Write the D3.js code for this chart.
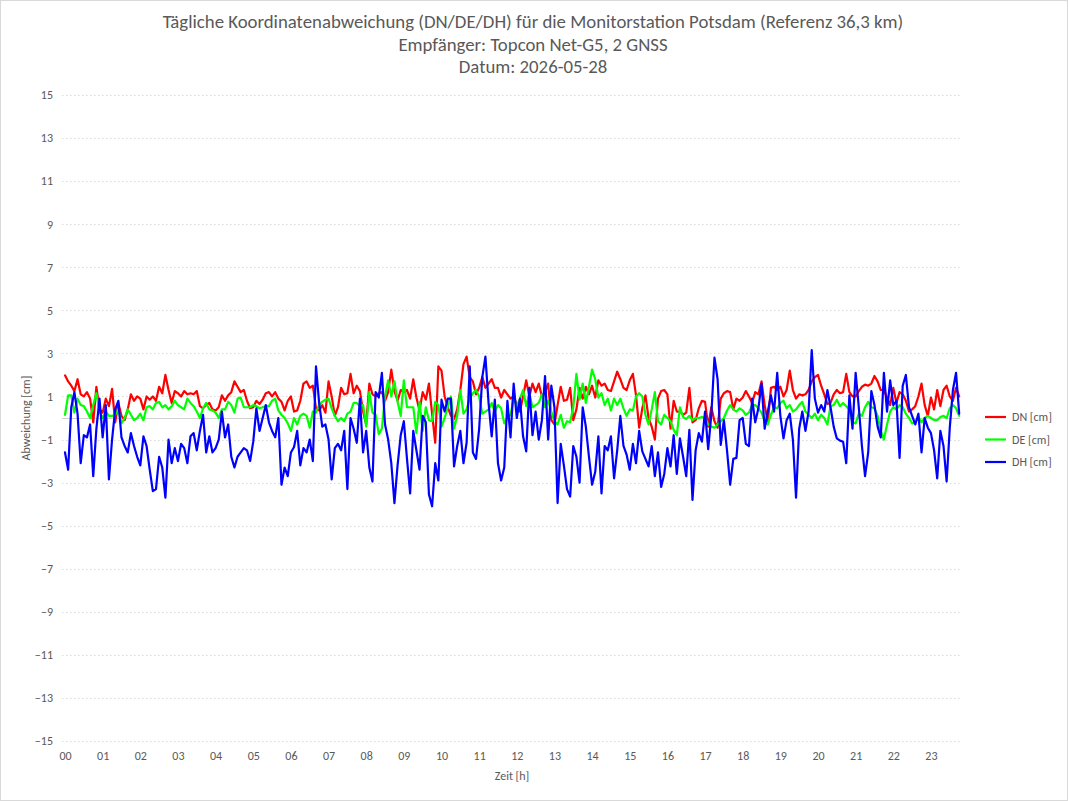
<!DOCTYPE html>
<html>
<head>
<meta charset="utf-8">
<script src="https://cdn.jsdelivr.net/npm/d3@7"></script>
<style>
  html, body { margin: 0; padding: 0; background: #fff; }
  svg { display: block; }
  text { font-family: "Carlito", "Liberation Sans Narrow", "Open Sans", sans-serif; fill: #595959; }
</style>
</head>
<body>
<svg id="chart" width="1068" height="801"></svg>
<script>
// ---------- DATA ----------
const titleLines = [
  "Tägliche Koordinatenabweichung (DN/DE/DH) für die Monitorstation Potsdam (Referenz 36,3 km)",
  "Empfänger: Topcon Net-G5, 2 GNSS",
  "Datum: 2026-05-28"
];
const yTicks = [-15, -13, -11, -9, -7, -5, -3, -1, 1, 3, 5, 7, 9, 11, 13, 15];
const xTickLabels = ["00","01","02","03","04","05","06","07","08","09","10","11",
                     "12","13","14","15","16","17","18","19","20","21","22","23"];
const seriesNames = ["DN [cm]", "DE [cm]", "DH [cm]"];
const seriesColors = ["#ff0000", "#00ff00", "#0000ff"];
const stepMinutes = 5;

// DN [cm], one value every 5 minutes from 00:00
const dn = [
  1.98,1.7,1.5,1.25,1.8,1.1,1.0,1.2,0.9,-0.2, 1.45,0.4,0.25,0.9,0.55,1.35,-0.2,0.7,0.1,-0.1,
  0.4,1.1,0.8,1.0,0.9,0.4,1.0,0.85,1.0,0.8, 1.45,1.15,2.0,1.3,0.7,1.25,1.15,1.0,1.25,1.1,
  1.15,1.1,1.25,0.55,0.45,0.6,0.7,
  0.4,0.35,0.5,1.05,0.8,1.05,1.2,1.7,1.45,1.2, 1.3,0.8,0.45,0.5,0.8,0.65,0.85,1.15,1.2,1.0,
  1.2,0.9,0.75,0.35,0.8,1.0,0.3,0.35,0.8,1.6, 1.7,1.4,1.5,0.45,0.35,0.6,0.25,1.7,1.0,0.1,
  0.5,1.4,1.1,1.15,2.05,1.15,1.5,1.25,
  0.3,-0.3,1.6,1.1,1.0,1.15,1.2,0.8,1.2,2.25, 1.25,0.8,1.3,1.2,1.3,0.9,1.8,0.95,0.35,1.2,
  0.85,1.6,0.2,-1.15,2.4,2.2,1.0,0.5,0.1,-0.05, 0.4,1.3,2.5,2.85,1.9,1.7,1.1,1.4,1.9,1.4,
  1.6,1.8,1.4,1.4,0.95,1.3,1.1,0.9,
  1.0,0.6,0.3,1.0,1.75,1.0,1.6,1.2,1.6,1.0, 1.2,1.6,-0.1,-0.3,0.6,1.45,0.8,0.85,1.4,-0.1,
  0.4,1.4,0.9,1.45,1.1,1.5,0.95,1.75,1.5,1.6, 1.3,1.25,1.7,2.15,1.8,1.4,1.3,1.75,2.05,1.05,
  -0.45,0.45,1.05,0.0,-0.4,-1.0,0.9,1.25,1.3,1.1, -0.5,0.8,0.3,0.3,0.15,0.25,1.4,-0.2,-0.1,0.45,
  0.8,0.75,-0.4,0.5,-0.15,-0.45,0.9,1.15,1.25,1.2, 0.4,0.9,0.8,0.95,1.25,1.0,0.7,1.2,1.1,1.7,
  0.6,-0.2,1.4,1.45,1.3,1.45,1.0,1.3,2.2,1.3, 0.9,1.1,1.05,1.1,1.3,
  1.7,1.9,2.0,1.5,1.1,0.65,0.7,1.1,1.3,1.15, 1.2,2.05,1.2,1.0,1.0,1.25,1.45,1.55,1.5,1.6,
  1.95,1.7,1.3,1.3,0.95,0.6,1.4,0.7,1.2,1.1, 0.8,0.3,0.4,0.55,1.0,1.6,0.6,0.1,0.95,0.4,
  1.3,0.55,1.3,1.5,1.0,0.8,1.4,1.0
];

// DE [cm]
const de = [
  0.15,1.05,1.05,0.25,0.9,0.6,0.55,0.3,0.0,0.6, 1.15,0.3,0.0,0.3,0.1,0.1,0.15,0.4,-0.25,0.0,
  0.4,0.15,-0.1,0.0,0.2,-0.1,0.5,0.55,0.4,0.7, 0.75,0.5,0.6,0.4,0.55,0.8,0.6,0.5,0.4,0.9,
  0.7,0.55,0.3,0.0,0.45,0.7,0.4,
  0.35,0.25,0.0,0.4,0.4,0.75,0.6,0.25,0.9,0.95, 0.5,0.5,0.5,0.6,0.55,0.45,0.5,0.55,0.55,0.8,
  0.9,0.35,0.15,0.0,-0.25,-0.6,0.0,-0.3,0.1,0.2, 0.1,-0.45,0.3,0.25,0.6,0.75,0.85,0.9,0.45,0.1,
  -0.15,0.0,-0.15,0.2,0.3,0.7,0.7,0.55,
  0.6,-0.4,1.2,0.25,0.15,-0.75,-0.5,1.0,1.75,1.0, 1.7,0.75,0.1,1.75,0.5,0.5,0.5,-0.7,0.75,-0.6,
  0.5,-0.1,-0.15,0.75,0.6,-0.4,0.0,0.5,1.0,-0.5, 0.1,1.3,0.2,0.4,0.9,1.15,1.3,1.0,0.2,0.3,
  0.4,0.7,0.3,0.6,0.45,-0.25,0.0,0.15,
  0.9,0.55,0.9,1.3,0.55,1.15,0.5,0.6,0.7,1.1, 0.5,0.8,0.3,-0.15,-0.3,0.15,-0.45,-0.15,-0.2,0.5,
  2.05,0.85,1.6,0.7,1.45,2.25,1.8,0.95,1.15,0.6, 0.9,0.35,0.9,0.6,0.9,0.45,0.1,0.4,0.35,1.0,
  1.15,1.0,0.15,-0.3,0.4,1.2,-0.15,-0.3,
  0.15,0.0,-0.15,-0.55,-0.8,0.5,0.05,-0.05,0.1,-0.1, 0.0,0.0,0.05,0.0,-0.3,-0.4,-0.45,-0.3,-0.15,0.0,
  0.35,0.6,0.4,0.3,0.45,0.35,0.15,0.25,0.6,0.6, 0.45,0.25,-0.15,-0.3,0.15,0.5,0.45,0.7,0.8,0.45,
  0.6,0.3,0.4,0.6,0.75,0.3,0.15,
  0.0,0.2,-0.1,0.15,0.0,-0.3,0.55,0.6,0.85,0.55, 0.7,0.55,0.4,-0.2,-0.25,0.2,0.1,0.5,0.75,0.5,
  0.45,0.1,-0.6,-1.0,-0.3,0.3,0.5,0.4,0.6,0.5, 0.2,0.0,-0.25,-0.2,0.05,-0.2,0.0,0.1,0.0,-0.1,
  -0.1,0.05,0.1,0.0,0.45,0.6,0.45,0.1
];

// DH [cm]
const dh = [
  -1.6,-2.4,0.5,1.2,0.2,-2.1,-0.8,-0.9,-0.3,-2.7, -0.5,0.9,-0.9,0.6,-2.85,-1.0,0.4,0.8,-0.9,-1.3,
  -1.6,-0.7,-1.3,-1.8,-2.2,-0.85,-1.3,-2.4,-3.4,-3.3, -1.8,-2.3,-3.7,-1.0,-2.1,-1.4,-2.0,-1.2,-1.4,-2.1,
  -0.85,-0.7,-1.5,-0.6,0.15,-1.6,-0.85,
  -1.6,-1.4,-1.0,0.3,-0.9,-0.3,-1.8,-2.3,-1.8,-1.6, -1.4,-1.5,-2.0,-1.1,0.45,-0.6,0.0,0.6,-0.2,-0.6,
  -0.9,0.0,-3.1,-2.3,-2.7,-1.6,-1.35,-0.6,-2.2,-1.4, -1.6,-1.0,-2.0,2.4,0.7,-0.4,-0.3,-1.0,-2.85,-1.4,
  -1.2,-1.5,-0.6,-3.3,0.0,-0.5,-1.15,0.9,
  -1.6,-0.6,-2.3,-2.95,1.2,0.95,2.1,-0.3,-1.0,-2.1, -3.95,-2.2,-0.8,-0.15,-1.9,-3.5,-0.6,-1.5,-2.4,0.1,
  -0.2,-3.55,-4.1,-2.1,-2.9,0.85,0.3,0.9,0.9,-2.25, -1.3,-0.6,-2.1,-1.15,2.4,-1.6,-1.9,-0.5,1.9,2.85,
  0.7,-0.85,0.85,-2.1,-2.9,-2.3,0.8,-0.9,
  1.6,0.0,0.9,-0.85,-1.55,1.4,-0.8,0.3,-1.0,-0.1, 1.95,-1.0,1.5,0.5,-3.95,-1.2,-2.2,-3.3,-3.65,-1.3,
  -1.8,-3.0,0.5,-0.4,-1.8,-3.1,-2.5,-0.85,-3.5,-1.3, -1.5,-0.85,-2.8,-1.5,0.1,-1.3,-1.7,-2.4,-1.2,-2.1,
  -0.6,-1.55,-1.9,-2.25,-1.3,-2.7,-1.6,-3.2,
  -2.6,-1.4,-2.25,-0.8,-2.6,-0.95,-1.8,-2.7,-0.55,-3.8, -1.5,-0.7,-1.1,0.3,-1.45,0.15,2.8,1.8,-1.25,-0.1,
  -1.5,-3.1,-1.9,-1.85,-0.1,0.0,-1.2,-1.3,0.9,-0.2, 0.45,1.6,-0.5,0.3,1.05,0.3,2.1,0.1,-0.95,-0.1,
  0.2,-1.0,-3.7,-0.5,0.3,-0.6,0.3,
  3.15,0.9,0.25,0.6,0.3,1.3,0.5,-0.4,-0.95,-1.05, -1.1,-2.1,1.05,-0.5,2.1,0.5,-1.3,-2.7,-1.6,1.25,
  0.6,-0.4,-0.9,2.1,0.3,1.75,0.6,0.8,-1.85,1.5, 2.0,0.5,0.1,-0.3,0.2,-1.6,0.0,-0.45,-0.7,-1.5,
  -2.8,-0.6,-1.3,-2.95,-0.45,1.3,2.1,0.2
];

// ---------- CHART ----------
const svg = d3.select("#chart");
const W = 1068, H = 801;

svg.append("rect").attr("x", 0.5).attr("y", 0.5).attr("width", W - 1).attr("height", H - 1)
  .attr("fill", "#fff").attr("stroke", "#d9d9d9");

const x = d3.scaleLinear().domain([0, 24]).range([65, 968.6]);
const y = d3.scaleLinear().domain([-15, 15]).range([741, 95]);
const plotLeft = 62, plotRight = 960;

// title
const title = svg.append("text").attr("text-anchor", "middle").style("font-size", "18.8px");
titleLines.forEach((t, i) => {
  title.append("tspan").attr("x", 533).attr("y", 28 + i * 22.5).text(t);
});

// gridlines
svg.append("g").selectAll("line").data(yTicks).join("line")
  .attr("x1", plotLeft).attr("x2", plotRight)
  .attr("y1", d => Math.round(y(d)) + 0.5).attr("y2", d => Math.round(y(d)) + 0.5)
  .attr("stroke", "#d9d9d9").attr("stroke-width", 1).attr("stroke-dasharray", "1.5,2.5");

// zero line
svg.append("line").attr("x1", plotLeft).attr("x2", plotRight)
  .attr("y1", Math.round(y(0)) + 0.5).attr("y2", Math.round(y(0)) + 0.5)
  .attr("stroke", "#d0d0d0").attr("stroke-width", 1);

// y axis labels
const yAxis = d3.axisLeft(y).tickValues(yTicks).tickSize(0).tickPadding(0);
const gy = svg.append("g").attr("transform", "translate(53,0)").call(yAxis);
gy.select(".domain").remove();
gy.selectAll("text").style("font-size", "12px").attr("fill", "#595959");

// x axis labels
const xAxis = d3.axisBottom(x).tickValues(d3.range(xTickLabels.length))
  .tickFormat((d, i) => xTickLabels[i]).tickSize(0).tickPadding(0);
const gx = svg.append("g").attr("transform", "translate(0,751)").call(xAxis);
gx.select(".domain").remove();
gx.selectAll("text").style("font-size", "12px").attr("fill", "#595959");

// axis titles
svg.append("text").attr("transform", "translate(30,418) rotate(-90)")
  .attr("text-anchor", "middle").style("font-size", "12px").text("Abweichung [cm]");
svg.append("text").attr("x", 512).attr("y", 780)
  .attr("text-anchor", "middle").style("font-size", "12px").text("Zeit [h]");

// series
const seriesData = [dn, de, dh];
const line = d3.line()
  .x((d, i) => x(i * stepMinutes / 60))
  .y(d => y(d));
seriesData.forEach((vals, k) => {
  svg.append("path").datum(vals)
    .attr("d", line)
    .attr("fill", "none")
    .attr("stroke", seriesColors[k])
    .attr("stroke-width", 2.2)
    .attr("stroke-linejoin", "round")
    .attr("stroke-linecap", "round");
});

// legend
const legend = svg.append("g");
seriesNames.forEach((n, k) => {
  const ly = 417 + k * 22.5;
  legend.append("line").attr("x1", 985).attr("x2", 1006).attr("y1", ly).attr("y2", ly)
    .attr("stroke", seriesColors[k]).attr("stroke-width", 2.2);
  legend.append("text").attr("x", 1012).attr("y", ly + 4).style("font-size", "12px").text(n);
});
</script>
</body>
</html>
